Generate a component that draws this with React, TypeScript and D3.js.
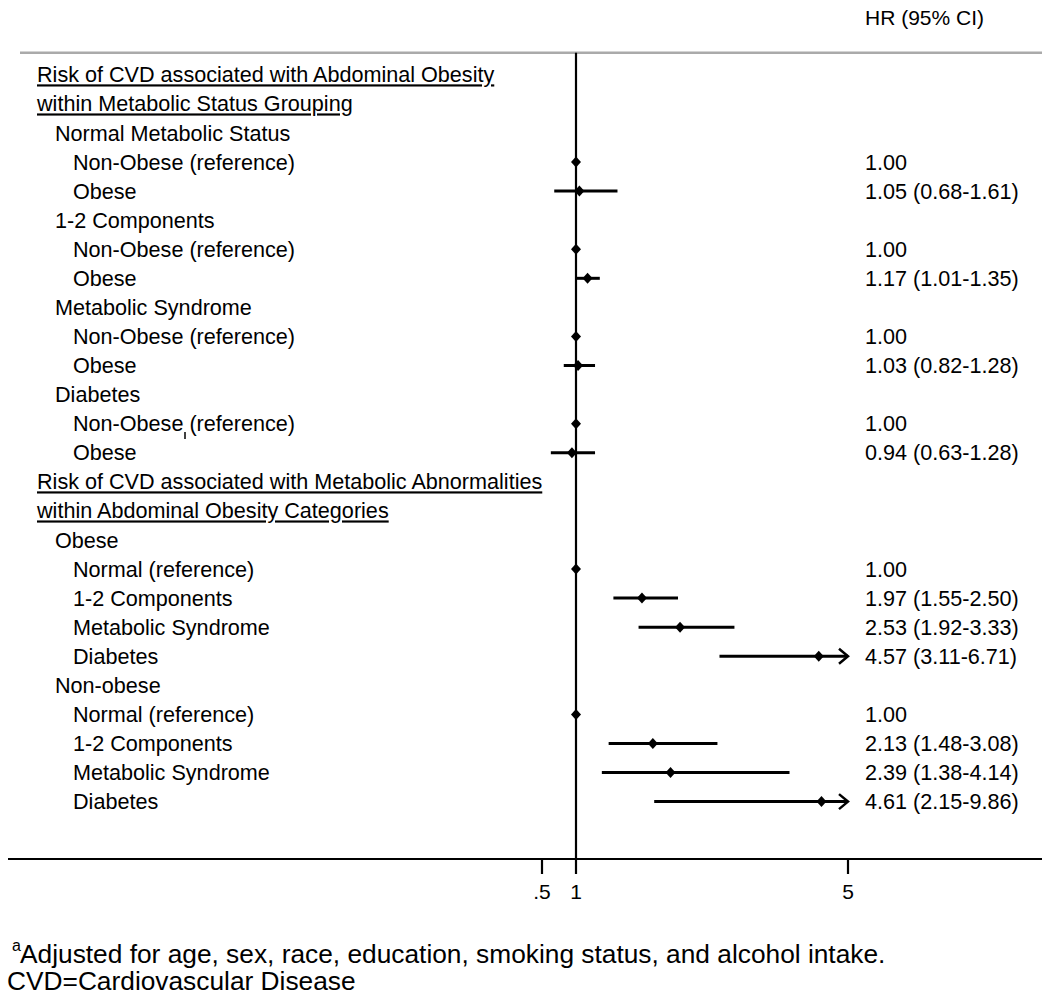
import React from 'react';
import * as d3 from 'd3';

// rows of the forest plot, top to bottom
const rowLabels = [
  'Risk of CVD associated with Abdominal Obesity',
  'within Metabolic Status Grouping',
  'Normal Metabolic Status',
  'Non-Obese (reference)',
  'Obese',
  '1-2 Components',
  'Non-Obese (reference)',
  'Obese',
  'Metabolic Syndrome',
  'Non-Obese (reference)',
  'Obese',
  'Diabetes',
  'Non-Obese (reference)',
  'Obese',
  'Risk of CVD associated with Metabolic Abnormalities',
  'within Abdominal Obesity Categories',
  'Obese',
  'Normal (reference)',
  '1-2 Components',
  'Metabolic Syndrome',
  'Diabetes',
  'Non-obese',
  'Normal (reference)',
  '1-2 Components',
  'Metabolic Syndrome',
  'Diabetes',
];
// 0 = underlined section header, 1 = group, 2 = estimate row
const rowLevel = [0, 0, 1, 2, 2, 1, 2, 2, 1, 2, 2, 1, 2, 2, 0, 0, 1, 2, 2, 2, 2, 1, 2, 2, 2, 2];

const hrValues: (number | null)[] = [
  null, null, null, 1.0, 1.05, null, 1.0, 1.17, null, 1.0, 1.03, null, 1.0, 0.94,
  null, null, null, 1.0, 1.97, 2.53, 4.57, null, 1.0, 2.13, 2.39, 4.61,
];
const ciLower: (number | null)[] = [
  null, null, null, null, 0.68, null, null, 1.01, null, null, 0.82, null, null, 0.63,
  null, null, null, null, 1.55, 1.92, 3.11, null, null, 1.48, 1.38, 2.15,
];
const ciUpper: (number | null)[] = [
  null, null, null, null, 1.61, null, null, 1.35, null, null, 1.28, null, null, 1.28,
  null, null, null, null, 2.5, 3.33, 6.71, null, null, 3.08, 4.14, 9.86,
];

const xTicks = [0.5, 1, 5];
const xTickLabels = ['.5', '1', '5'];

const footnote = 'Adjusted for age, sex, race, education, smoking status, and alcohol intake.';
const footnote2 = 'CVD=Cardiovascular Disease';

const font = 'Liberation Sans, Arial, Helvetica, sans-serif';

export default function App() {
  const width = 1050;
  const height = 1000;

  const x = d3.scaleLinear().domain([1, 5]).range([576, 848]);
  const y = d3.scaleLinear().domain([0, rowLabels.length - 1]).range([74.8, 801.6]);

  const top = 52.7;
  const axisY = 859;
  const left = 8;
  const right = 1042;
  const xMax = 5; // CIs beyond this get an arrow
  const indent = [37, 55, 73];

  const fmt = d3.format('.2f');
  const hrText = (i: number) => {
    const hr = hrValues[i];
    if (hr == null) return '';
    const lo = ciLower[i];
    const hi = ciUpper[i];
    if (lo == null || hi == null) return fmt(hr);
    return `${fmt(hr)} (${fmt(lo)}-${fmt(hi)})`;
  };

  return (
    <svg
      width={width}
      height={height}
      style={{ position: 'absolute', left: 0, top: 0 }}
      fontFamily={font}
    >
      <rect width={width} height={height} fill="#fff" />

      {/* header */}
      <text x={865} y={18} dy="0.35em" fontSize={21}>HR (95% CI)</text>
      <line x1={20} x2={right} y1={top} y2={top} stroke="#aaaaaa" strokeWidth={2.5} />

      {/* null line */}
      <line x1={x(1)} x2={x(1)} y1={top} y2={axisY} stroke="#000" strokeWidth={2.2} />

      {/* labels */}
      {rowLabels.map((label, i) => (
        <text
          key={'l' + i}
          x={indent[rowLevel[i]]}
          y={y(i)}
          dy="0.35em"
          fontSize={21.6}
          textDecoration={rowLevel[i] === 0 ? 'underline' : undefined}
        >
          {label}
        </text>
      ))}
      {/* stray mark in the source image */}
      <line x1={185} x2={185} y1={432} y2={439} stroke="#000" strokeWidth={1.5} />

      {/* CIs and estimates */}
      {hrValues.map((hr, i) => {
        if (hr == null) return null;
        const lo = ciLower[i];
        const hi = ciUpper[i];
        const cy = y(i);
        const cx = x(hr);
        const clipped = hi != null && hi > xMax;
        return (
          <g key={'e' + i}>
            {lo != null && hi != null && (
              <line
                x1={x(lo)}
                x2={x(Math.min(hi, xMax))}
                y1={cy}
                y2={cy}
                stroke="#000"
                strokeWidth={3}
              />
            )}
            {clipped && (
              <path
                d={`M${x(xMax) - 9},${cy - 7.5}L${x(xMax)},${cy}L${x(xMax) - 9},${cy + 7.5}`}
                fill="none"
                stroke="#000"
                strokeWidth={2.5}
              />
            )}
            <path
              d={`M${cx},${cy - 5.5}L${cx + 5},${cy}L${cx},${cy + 5.5}L${cx - 5},${cy}Z`}
              fill="#000"
            />
            <text x={865} y={cy} dy="0.35em" fontSize={21.6}>{hrText(i)}</text>
          </g>
        );
      })}

      {/* x axis */}
      <line x1={left} x2={right} y1={axisY} y2={axisY} stroke="#000" strokeWidth={2.2} />
      {xTicks.map((t, i) => (
        <g key={'t' + t} transform={`translate(${x(t)},${axisY})`}>
          <line y1={0} y2={15} stroke="#000" strokeWidth={2.2} />
          <text y={33} dy="0.35em" textAnchor="middle" fontSize={21}>{xTickLabels[i]}</text>
        </g>
      ))}

      {/* footnotes */}
      <text x={12} y={951} fontSize={16}>a</text>
      <text x={20} y={963} fontSize={26.3}>{footnote}</text>
      <text x={7} y={990} fontSize={26.3}>{footnote2}</text>
    </svg>
  );
}
